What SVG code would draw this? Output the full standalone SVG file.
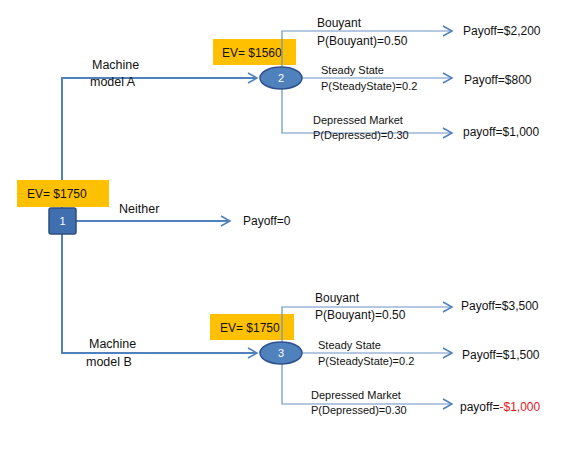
<svg xmlns="http://www.w3.org/2000/svg" width="580" height="449" viewBox="0 0 580 449">
<style>
text{font-family:"Liberation Sans",Arial,sans-serif;fill:#111}
.t{font-size:12px}
.s{font-size:11px}
.ev{font-size:12px}
.lbl{font-size:12.5px}
.w{fill:#fff;font-size:11px}
.main{stroke:#4F81BD;stroke-width:2;fill:none}
.br{stroke:#6A92C6;stroke-width:1.2;fill:none}
.evbox{fill:#FFC000}
.red{fill:#E8151B}
</style>
<defs>
<marker id="ah" markerWidth="12" markerHeight="12" refX="10" refY="6" orient="auto" markerUnits="userSpaceOnUse">
<path d="M1,1 L10,6 L1,11" fill="none" stroke="#4F81BD" stroke-width="1.5"/>
</marker>
</defs>
<rect width="580" height="449" fill="#fff"/>
<g id="connectors">
<path class="main" d="M62,208 V78 H257" marker-end="url(#ah)"/>
<path class="main" d="M62,234 V353 H257" marker-end="url(#ah)"/>
<path class="main" d="M76,221 H230" marker-end="url(#ah)"/>
<path class="br" d="M282,78 V31 H452" marker-end="url(#ah)"/>
<path class="br" d="M301,78 H452" marker-end="url(#ah)"/>
<path class="br" d="M282,78 V133 H452" marker-end="url(#ah)"/>
<path class="br" d="M282,353 V307 H452" marker-end="url(#ah)"/>
<path class="br" d="M301,353 H452" marker-end="url(#ah)"/>
<path class="br" d="M282,353 V404 H452" marker-end="url(#ah)"/>
</g>
<g id="ev1"><rect class="evbox" x="17" y="180" width="92" height="27"/><text class="ev" x="27" y="198">EV= $1750</text></g>
<g id="node1"><rect x="49" y="208" width="27" height="26" rx="2" fill="#3F6FAE" stroke="#2C4F80" stroke-width="1.5"/><text class="w" x="62.5" y="225" text-anchor="middle">1</text></g>
<g id="ev2"><rect class="evbox" x="213" y="39" width="83" height="26"/><text class="ev" x="222" y="57">EV= $1560</text></g>
<path d="M282,39 V65" stroke="#6A92C6" stroke-width="1.2"/>
<g id="node2"><ellipse cx="281" cy="78" rx="21" ry="11" fill="#4F81BD" stroke="#2F528F" stroke-width="1.5"/><text class="w" x="281" y="82" text-anchor="middle" font-size="10">2</text></g>
<g id="ev3"><rect class="evbox" x="210" y="314" width="84" height="26"/><text class="ev" x="220" y="332">EV= $1750</text></g>
<path d="M282,314 V340" stroke="#6A92C6" stroke-width="1.2"/>
<g id="node3"><ellipse cx="281" cy="353" rx="21" ry="11" fill="#4F81BD" stroke="#2F528F" stroke-width="1.5"/><text class="w" x="281" y="357" text-anchor="middle" font-size="10">3</text></g>
<g id="labels">
<text class="lbl" x="92" y="69">Machine</text>
<text class="lbl" x="90" y="86">model A</text>
<text class="lbl" x="119" y="213">Neither</text>
<text class="t" x="243" y="225">Payoff=0</text>
<text class="lbl" x="89" y="348">Machine</text>
<text class="lbl" x="86" y="366">model B</text>
<text class="t" x="317" y="27">Bouyant</text>
<text class="t" x="317" y="45">P(Bouyant)=0.50</text>
<text class="t" x="463" y="35">Payoff=$2,200</text>
<text class="s" x="321" y="74">Steady State</text>
<text class="s" x="321" y="90">P(SteadyState)=0.2</text>
<text class="t" x="464" y="84">Payoff=$800</text>
<text class="s" x="313" y="124">Depressed Market</text>
<text class="s" x="313" y="139">P(Depressed)=0.30</text>
<text class="t" x="463" y="136">payoff=$1,000</text>
<text class="t" x="315" y="302">Bouyant</text>
<text class="t" x="315" y="319">P(Bouyant)=0.50</text>
<text class="t" x="461" y="310">Payoff=$3,500</text>
<text class="s" x="318" y="349">Steady State</text>
<text class="s" x="318" y="365">P(SteadyState)=0.2</text>
<text class="t" x="462" y="359">Payoff=$1,500</text>
<text class="s" x="311" y="399">Depressed Market</text>
<text class="s" x="311" y="414">P(Depressed)=0.30</text>
<text class="t" x="460" y="411">payoff=<tspan class="red">-$1,000</tspan></text>
</g>
</svg>
